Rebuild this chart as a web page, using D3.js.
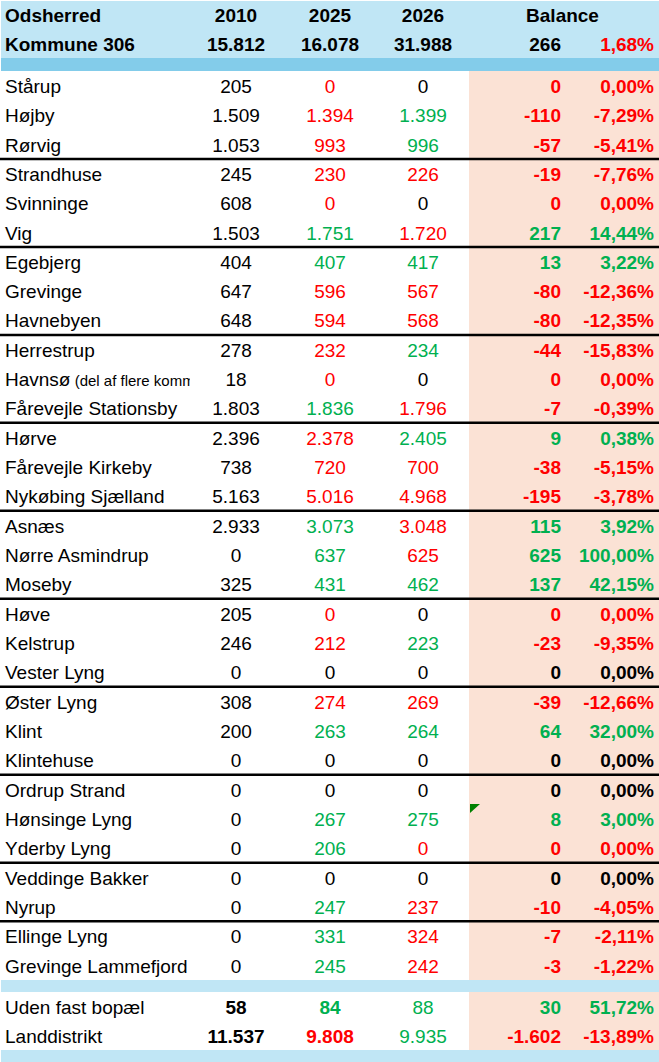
<!DOCTYPE html>
<html lang="da">
<head>
  <meta charset="utf-8">
  <title>Odsherred</title>
  <script src="https://d3js.org/d3.v7.min.js"></script>
  <style type="text/css">
    body { margin: 0; background: #fff; }
    svg { display: block; font-family: "Liberation Sans", Arial, sans-serif; }
  </style>
</head>
<body>
  <div id="chart"></div>
  <script type="text/javascript">
    const w = 659;
    const h = 1062;

    // header
    const headYears = ["2010", "2025", "2026"];
    const headTotals = [15812, 16078, 31988];
    const headBalance = 266;
    const headPct = 0.0168;

    // towns
    const places = ["Stårup", "Højby", "Rørvig", "Strandhuse", "Svinninge", "Vig", "Egebjerg", "Grevinge",
      "Havnebyen", "Herrestrup", "Havnsø", "Fårevejle Stationsby", "Hørve", "Fårevejle Kirkeby",
      "Nykøbing Sjælland", "Asnæs", "Nørre Asmindrup", "Moseby", "Høve", "Kelstrup", "Vester Lyng",
      "Øster Lyng", "Klint", "Klintehuse", "Ordrup Strand", "Hønsinge Lyng", "Yderby Lyng",
      "Veddinge Bakker", "Nyrup", "Ellinge Lyng", "Grevinge Lammefjord"];
    const pop2010 = [205, 1509, 1053, 245, 608, 1503, 404, 647, 648, 278, 18, 1803, 2396, 738, 5163,
      2933, 0, 325, 205, 246, 0, 308, 200, 0, 0, 0, 0, 0, 0, 0, 0];
    const pop2025 = [0, 1394, 993, 230, 0, 1751, 407, 596, 594, 232, 0, 1836, 2378, 720, 5016,
      3073, 637, 431, 0, 212, 0, 274, 263, 0, 0, 267, 206, 0, 247, 331, 245];
    const pop2026 = [0, 1399, 996, 226, 0, 1720, 417, 567, 568, 234, 0, 1796, 2405, 700, 4968,
      3048, 625, 462, 0, 223, 0, 269, 264, 0, 0, 275, 0, 0, 237, 324, 242];
    const balance = [0, -110, -57, -19, 0, 217, 13, -80, -80, -44, 0, -7, 9, -38, -195,
      115, 625, 137, 0, -23, 0, -39, 64, 0, 0, 8, 0, 0, -10, -7, -3];
    const balancePct = [0, -0.0729, -0.0541, -0.0776, 0, 0.1444, 0.0322, -0.1236, -0.1235, -0.1583, 0, -0.0039,
      0.0038, -0.0515, -0.0378, 0.0392, 1.0, 0.4215, 0, -0.0935, 0, -0.1266, 0.32, 0, 0, 0.03, 0, 0,
      -0.0405, -0.0211, -0.0122];
    const groupEnds = [3, 6, 9, 12, 15, 18, 21, 24, 27, 29];
    const havnsoNote = " (del af flere komm";
    const flaggedRow = 25;

    // summary rows
    const sumPlaces = ["Uden fast bopæl", "Landdistrikt"];
    const sum2010 = [58, 11537];
    const sum2025 = [84, 9808];
    const sum2026 = [88, 9935];
    const sumBalance = [30, -1602];
    const sumPct = [0.5172, -0.1389];

    const RED = "#ff0000", GREEN = "#00b050", BLACK = "#000";
    const da = d3.formatLocale({decimal: ",", thousands: ".", grouping: [3], currency: ["", " kr."], minus: "-"});
    const fmtInt = da.format(",d");
    const fmtPct = da.format(".2%");

    const cmp = (a, b) => a < b ? RED : a > b ? GREEN : BLACK;

    const rows = places.map((p, i) => ({
      name: p, v10: pop2010[i], v25: pop2025[i], v26: pop2026[i], bal: balance[i], pct: balancePct[i],
      c25: cmp(pop2025[i], pop2010[i]), c26: cmp(pop2026[i], pop2025[i]),
      cb: balance[i] < 0 ? RED : balance[i] > 0 ? GREEN : (pop2010[i] + pop2025[i] + pop2026[i] > 0 ? RED : BLACK),
      b10: false, b25: false
    }));
    const sumRows = sumPlaces.map((p, i) => ({
      name: p, v10: sum2010[i], v25: sum2025[i], v26: sum2026[i], bal: sumBalance[i], pct: sumPct[i],
      c25: cmp(sum2025[i], sum2010[i]), c26: cmp(sum2026[i], sum2025[i]),
      cb: sumBalance[i] < 0 ? RED : GREEN,
      b10: true, b25: true
    }));

    const cols = ["name", "v10", "v25", "v26", "bal", "pct"];
    const xCol = d3.scaleOrdinal().domain(cols).range([5, 236, 330, 423, 561, 654]);
    const anchor = d3.scaleOrdinal().domain(cols).range(["start", "middle", "middle", "middle", "end", "end"]);

    const yHead = d3.scaleLinear().domain([0, 2]).range([0, 58]);
    const yRow = d3.scaleLinear().domain([0, places.length]).range([71, 980]);
    const ySum = d3.scaleLinear().domain([0, 2]).range([992, 1050]);

    const svg = d3.select("#chart").append("svg")
      .attr("width", w)
      .attr("height", h);

    svg.append("defs").append("clipPath").attr("id", "nameclip")
      .append("rect").attr("x", 0).attr("y", -20).attr("width", 190).attr("height", 40);

    // backgrounds
    svg.append("rect").attr("x", 1).attr("y", 1).attr("width", w - 1).attr("height", yHead(2) - 1).attr("fill", "#c0e6f5");
    svg.append("rect").attr("x", 1).attr("y", yHead(2)).attr("width", w - 1).attr("height", yRow(0) - yHead(2)).attr("fill", "#83ccea");
    svg.append("rect").attr("x", 469).attr("y", yRow(0)).attr("width", w - 469).attr("height", yRow(places.length) - yRow(0)).attr("fill", "#fbe2d5");
    svg.append("rect").attr("x", 1).attr("y", yRow(places.length)).attr("width", w - 1).attr("height", ySum(0) - yRow(places.length)).attr("fill", "#c0e6f5");
    svg.append("rect").attr("x", 469).attr("y", ySum(0)).attr("width", w - 469).attr("height", ySum(2) - ySum(0)).attr("fill", "#fbe2d5");
    svg.append("rect").attr("x", 1).attr("y", ySum(2)).attr("width", w - 1).attr("height", h - ySum(2)).attr("fill", "#c0e6f5");

    // group separators
    svg.selectAll("line.sep")
      .data(groupEnds)
      .enter().append("line")
      .attr("class", "sep")
      .attr("x1", 0).attr("x2", w)
      .attr("y1", d => yRow(d)).attr("y2", d => yRow(d))
      .attr("stroke", "#000")
      .attr("stroke-width", 2.5);

    // header text
    const head = svg.append("g").attr("font-weight", "bold").attr("font-size", "19px");
    const mid = (s, i) => (s(i) + s(i + 1)) / 2;
    head.append("text").attr("x", xCol("name")).attr("y", mid(yHead, 0)).attr("dy", "0.38em").text("Odsherred");
    head.append("text").attr("x", xCol("name")).attr("y", mid(yHead, 1)).attr("dy", "0.38em").text("Kommune 306");
    head.selectAll("text.yr")
      .data(headYears)
      .enter().append("text")
      .attr("class", "yr")
      .attr("x", (d, i) => xCol(cols[i + 1]))
      .attr("y", mid(yHead, 0)).attr("dy", "0.38em")
      .attr("text-anchor", "middle")
      .text(d => d);
    head.append("text").attr("x", (xCol("bal") + xCol("pct")) / 2 - 45).attr("y", mid(yHead, 0)).attr("dy", "0.38em")
      .attr("text-anchor", "middle").text("Balance");
    head.selectAll("text.tot")
      .data(headTotals)
      .enter().append("text")
      .attr("class", "tot")
      .attr("x", (d, i) => xCol(cols[i + 1]))
      .attr("y", mid(yHead, 1)).attr("dy", "0.38em")
      .attr("text-anchor", "middle")
      .text(d => fmtInt(d));
    head.append("text").attr("x", xCol("bal")).attr("y", mid(yHead, 1)).attr("dy", "0.38em")
      .attr("text-anchor", "end").text(fmtInt(headBalance));
    head.append("text").attr("x", xCol("pct")).attr("y", mid(yHead, 1)).attr("dy", "0.38em")
      .attr("text-anchor", "end").attr("fill", RED).text(fmtPct(headPct));

    function drawRows(data, yScale, cls) {
      const g = svg.selectAll("g." + cls)
        .data(data)
        .enter().append("g")
        .attr("class", cls)
        .attr("font-size", "19px")
        .attr("transform", (d, i) => `translate(0,${mid(yScale, i)})`);

      const name = g.append("text")
        .attr("x", xCol("name")).attr("dy", "0.38em")
        .attr("clip-path", "url(#nameclip)")
        .text(d => d.name);
      name.filter(d => d.name === "Havnsø").append("tspan")
        .attr("font-size", "15px")
        .text(havnsoNote);

      g.append("text").attr("x", xCol("v10")).attr("dy", "0.38em").attr("text-anchor", anchor("v10"))
        .attr("font-weight", d => d.b10 ? "bold" : "normal")
        .text(d => fmtInt(d.v10));
      g.append("text").attr("x", xCol("v25")).attr("dy", "0.38em").attr("text-anchor", anchor("v25"))
        .attr("font-weight", d => d.b25 ? "bold" : "normal")
        .attr("fill", d => d.c25)
        .text(d => fmtInt(d.v25));
      g.append("text").attr("x", xCol("v26")).attr("dy", "0.38em").attr("text-anchor", anchor("v26"))
        .attr("fill", d => d.c26)
        .text(d => fmtInt(d.v26));
      g.append("text").attr("x", xCol("bal")).attr("dy", "0.38em").attr("text-anchor", anchor("bal"))
        .attr("font-weight", "bold").attr("fill", d => d.cb)
        .text(d => fmtInt(d.bal));
      g.append("text").attr("x", xCol("pct")).attr("dy", "0.38em").attr("text-anchor", anchor("pct"))
        .attr("font-weight", "bold").attr("fill", d => d.cb)
        .text(d => fmtPct(d.pct));
    }

    drawRows(rows, yRow, "row");
    drawRows(sumRows, ySum, "sumrow");

    // excel error marker
    const fy = yRow(flaggedRow);
    svg.append("path")
      .attr("d", `M470,${fy}L480,${fy}L470,${fy + 9}Z`)
      .attr("fill", "#008000");
  </script>
</body>
</html>
